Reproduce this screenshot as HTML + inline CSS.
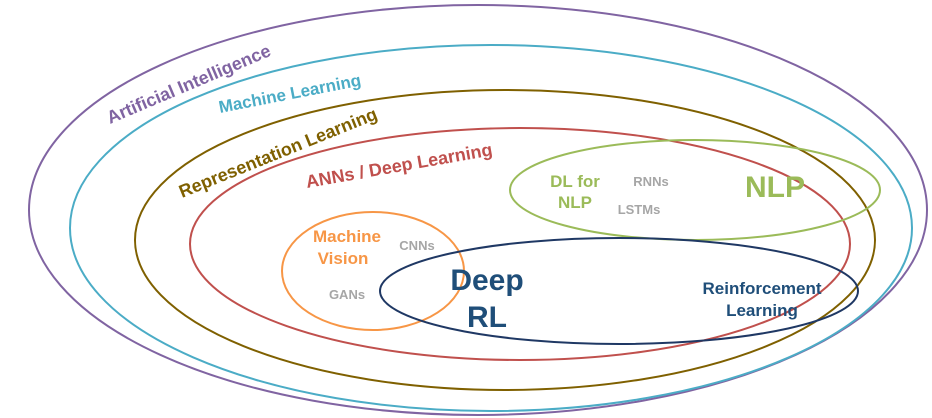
<html><body style="margin:0;background:#fff">
<svg width="932" height="418" xmlns="http://www.w3.org/2000/svg" font-family="Liberation Sans, sans-serif" font-weight="bold">
<g fill="none" stroke-width="2">
<ellipse cx="478" cy="210" rx="449" ry="205" stroke="#8064a2"/>
<ellipse cx="491" cy="228" rx="421" ry="183" stroke="#4bacc6"/>
<ellipse cx="505" cy="240" rx="370" ry="150" stroke="#7f6000"/>
<ellipse cx="520" cy="244" rx="330" ry="116" stroke="#c0504d"/>
<ellipse cx="695" cy="190" rx="185" ry="50" stroke="#9bbb59"/>
<ellipse cx="373" cy="271" rx="91" ry="59" stroke="#f79646"/>
<ellipse cx="619" cy="291" rx="239" ry="53" stroke="#1f3864"/>
</g>
<text x="0" y="0" font-size="18" fill="#8064a2" transform="translate(110,124) rotate(-23)">Artificial Intelligence</text>
<text x="0" y="0" font-size="17" fill="#4bacc6" transform="translate(220,113) rotate(-11)">Machine Learning</text>
<text x="0" y="0" font-size="18" fill="#7f6000" transform="translate(182,198) rotate(-22)">Representation Learning</text>
<text x="0" y="0" font-size="18" fill="#c0504d" transform="translate(307,188) rotate(-10)">ANNs / Deep Learning</text>
<g text-anchor="middle">
<text x="575" y="187" font-size="17" fill="#9bbb59">DL for</text>
<text x="575" y="208" font-size="17" fill="#9bbb59">NLP</text>
<text x="651" y="186" font-size="13" fill="#a6a6a6">RNNs</text>
<text x="639" y="214" font-size="13" fill="#a6a6a6">LSTMs</text>
<text x="775" y="197" font-size="30" fill="#9bbb59">NLP</text>
<text x="347" y="242" font-size="17" fill="#f79646">Machine</text>
<text x="343" y="264" font-size="17" fill="#f79646">Vision</text>
<text x="417" y="250" font-size="13" fill="#a6a6a6">CNNs</text>
<text x="347" y="299" font-size="13" fill="#a6a6a6">GANs</text>
<text x="487" y="290" font-size="30" fill="#1f4e79">Deep</text>
<text x="487" y="327" font-size="30" fill="#1f4e79">RL</text>
<text x="762" y="294" font-size="17" fill="#1f4e79">Reinforcement</text>
<text x="762" y="316" font-size="17" fill="#1f4e79">Learning</text>
</g>
</svg>
</body></html>
